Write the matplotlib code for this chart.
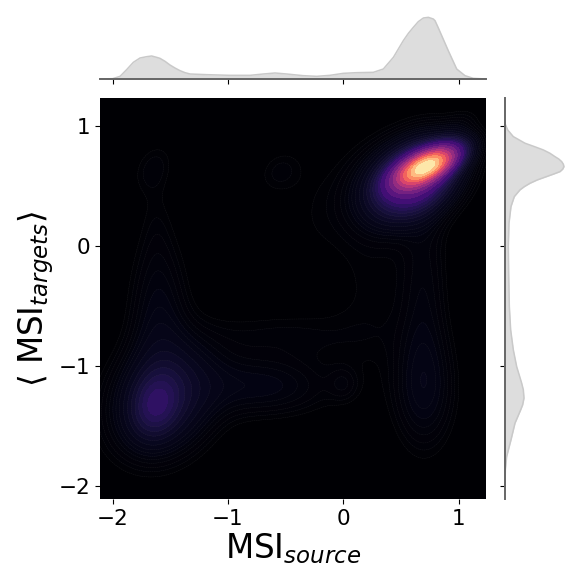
import numpy as np
import matplotlib
matplotlib.use("Agg")
import matplotlib.pyplot as plt

# Density modes
mode_x   = [0.73, 0.62, 0.48, -1.63, -1.55, -0.70, 0.70, 0.70, -1.60, -1.65, -1.62, -0.55, -0.50, 0.25, -0.30, 0.00, 1.00]
mode_y   = [0.67, 0.56, 0.52, -1.33, -1.27, -1.17, -1.20, -0.40, -0.60, 0.65, 0.20, 0.62, -0.75, -0.35, 0.20, -1.15, 1.00]
mode_sx  = [0.17, 0.22, 0.34, 0.13, 0.29, 0.40, 0.18, 0.14, 0.17, 0.13, 0.10, 0.14, 0.50, 0.25, 0.20, 0.09, 0.12]
mode_sy  = [0.105, 0.19, 0.27, 0.17, 0.30, 0.17, 0.33, 0.60, 0.45, 0.15, 0.30, 0.13, 0.15, 0.55, 0.35, 0.10, 0.10]
mode_rho = [0.6, 0.35, 0.25, 0.15, 0.2, 0.0, 0.0, 0.0, 0.0, 0.3, 0.0, 0.2, 0.0, 0.0, 0.0, 0.0, 0.5]
mode_amp = [0.72, 0.26, 0.035, 0.08, 0.085, 0.03, 0.03, 0.02, 0.03, 0.012, 0.006, 0.012, 0.012, 0.009, 0.005, 0.012, 0.01]

# Marginal curves
top_x = [-2.11, -2.0, -1.936, -1.879, -1.85, -1.821, -1.763, -1.705, -1.662, -1.619, -1.59, -1.546, -1.503, -1.46,
         -1.416, -1.373, -1.329, -1.185, -0.983, -0.809, -0.694, -0.592, -0.491, -0.347, -0.231, -0.116, 0.0, 0.116,
         0.26, 0.347, 0.434, 0.477, 0.52, 0.564, 0.607, 0.65, 0.694, 0.737, 0.78, 0.795, 0.824, 0.853, 0.91, 0.983,
         1.055, 1.127, 1.237]
top_d = [0, 1, 8, 28, 39, 50, 63, 67, 69, 65, 62, 53, 42, 33, 25, 19, 15, 13, 11, 11, 15, 18, 15, 10, 8, 11, 17, 19,
         20, 30, 65, 90, 115, 137, 155, 172, 183, 185, 180, 175, 153, 130, 85, 30, 10, 2, 0]
right_y = [1.02, 0.967, 0.911, 0.856, 0.828, 0.80, 0.772, 0.744, 0.725, 0.703, 0.681, 0.661, 0.639, 0.619, 0.60, 0.578,
           0.55, 0.522, 0.494, 0.467, 0.411, 0.328, 0.189, 0.0, -0.228, -0.506, -0.70, -0.867, -1.006, -1.144, -1.2,
           -1.269, -1.325, -1.367, -1.478, -1.617, -1.756, -1.867, -2.0]
right_d = [0, 8, 25, 60, 88, 115, 135, 150, 161, 170, 175, 177, 173, 165, 147, 125, 97, 75, 58, 45, 28, 18, 12, 10, 11,
           13, 17, 25, 35, 50, 55, 57, 53, 47, 30, 18, 5, 1, 0]

x_ticks = [-2, -1, 0, 1]
y_ticks = [-2, -1, 0, 1]
x_label = r"MSI$_{source}$"
y_label = r"$\langle$ MSI$_{targets}\rangle$"

W = 581.0
fig = plt.figure(figsize=(5.81, 5.81), dpi=100)
ax = fig.add_axes([100/W, (W-499)/W, 386/W, 401/W])
ax_top = fig.add_axes([100/W, (W-79)/W, 386/W, 66/W])
ax_right = fig.add_axes([505/W, (W-499)/W, 65/W, 401/W])

xlim = (-2.11, 1.237)
ylim = (-2.11, 1.233)
gx, gy = np.meshgrid(np.linspace(*xlim, 400), np.linspace(*ylim, 400))
z = np.zeros_like(gx)
for mx, my, sx, sy, r, a in zip(mode_x, mode_y, mode_sx, mode_sy, mode_rho, mode_amp):
    u = (gx - mx) / sx
    v = (gy - my) / sy
    z += a * np.exp(-(u*u - 2*r*u*v + v*v) / (2*(1 - r*r)))

# iso-proportion levels, as a KDE plot of seaborn uses
n_levels = 26
thresh = 0.05
zs = np.sort(z.ravel())
cum = np.cumsum(zs) / zs.sum()
levels = np.unique(np.interp(np.linspace(thresh, 1, n_levels), cum, zs))
ax.set_facecolor(matplotlib.colormaps["magma"](0.0))
ax.contourf(gx, gy, z, levels=levels, cmap="magma", vmin=0, vmax=z.max())
ax.contour(gx, gy, z, levels=levels[:13], colors="#333333", linewidths=0.3, linestyles="--", alpha=0.5)
ax.set_xlim(xlim)
ax.set_ylim(ylim)
ax.set_xticks(x_ticks)
ax.set_yticks(y_ticks)
ax.tick_params(labelsize=15.5)
ax.set_xlabel(x_label, fontsize=23.5, labelpad=2)
ax.set_ylabel(y_label, fontsize=23.5, labelpad=2)
for s in ax.spines.values():
    s.set_visible(False)

FILL = "#dddddd"
EDGE = "#c9c9c9"
ax_top.fill_between(top_x, 0, top_d, color=FILL, lw=0)
ax_top.plot(top_x, top_d, color=EDGE, lw=1.1)
ax_top.set_xlim(xlim)
ax_top.set_ylim(0, 198)
ax_top.set_xticks(x_ticks)
ax_top.set_yticks([])
ax_top.tick_params(labelbottom=False)
for k in ("top", "left", "right"):
    ax_top.spines[k].set_visible(False)
ax_top.spines["bottom"].set_color("#666666")
ax_top.spines["bottom"].set_linewidth(1.4)

ax_right.fill_betweenx(right_y, 0, right_d, color=FILL, lw=0)
ax_right.plot(right_d, right_y, color=EDGE, lw=1.1)
ax_right.set_ylim(ylim)
ax_right.set_xlim(0, 195)
ax_right.set_yticks(y_ticks)
ax_right.set_xticks([])
ax_right.tick_params(labelleft=False)
for k in ("top", "bottom", "right"):
    ax_right.spines[k].set_visible(False)
ax_right.spines["left"].set_color("#666666")
ax_right.spines["left"].set_linewidth(1.4)
for a in (ax_top, ax_right):
    a.patch.set_alpha(0)

fig.savefig("out.png", dpi=100)
